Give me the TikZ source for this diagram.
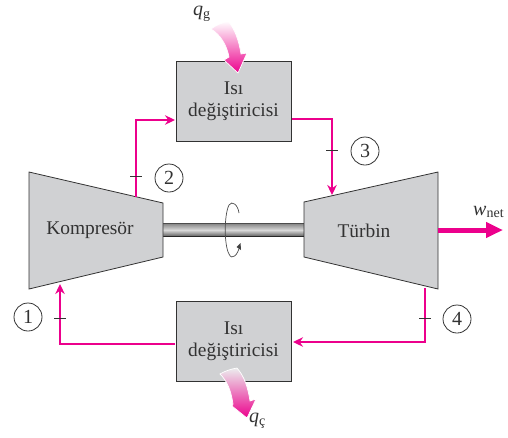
\documentclass[tikz,border=0pt]{standalone}
\usepackage{fontspec}
\setmainfont{Liberation Serif}
\usetikzlibrary{arrows.meta,calc}
\definecolor{pinkline}{RGB}{236,0,140}
\definecolor{boxgray}{RGB}{208,209,211}
\definecolor{inkdark}{RGB}{50,50,50}
\tikzset{
  hxbox/.style={draw=inkdark,line width=1pt,fill=boxgray,minimum width=115pt,minimum height=80pt,inner sep=0pt,align=center,text=inkdark,font=\fontsize{19.4}{22}\selectfont},
  machine/.style={draw=inkdark,line width=0.8pt,fill=boxgray,line join=miter},
  lbl/.style={text=inkdark,font=\fontsize{19.4}{22}\selectfont,inner sep=0pt},
  pipe/.style={draw=pinkline,line width=2.3pt},
  pipearrow/.style={pipe,-{Stealth[length=10pt,width=9.5pt]}},
  tick/.style={draw=black!80,line width=0.7pt},
  statecirc/.style={circle,draw=inkdark,line width=0.8pt,minimum size=28pt,inner sep=0pt,text=inkdark,font=\fontsize{20}{22}\selectfont},
  mathlbl/.style={inner sep=0pt,text=inkdark,font=\fontsize{20}{22}\selectfont},
  heat/.style={draw=white,line width=0.7pt,shading angle=0}
}
\begin{document}
\begin{tikzpicture}[x=1pt,y=-1pt]
\useasboundingbox (0,0) rectangle (508,437);
% shaft
\shade[top color=black!45,bottom color=black!60,middle color=black!15] (163,224) rectangle (304,236);
\draw[draw=black!70,line width=1pt] (163,223.5) -- (304,223.5);
\draw[draw=black!85,line width=1.3pt] (163,236.5) -- (304,236.5);
% machines
\draw[machine] (29,172) -- (163,203) -- (163,257) -- (29,289) -- cycle;
\draw[machine] (304,202) -- (438,172) -- (438,289) -- (304,257) -- cycle;
\node[lbl] (komp) at (90,230) {Kompresör};
\node[lbl] (turb) at (364,231) {Türbin};
% boxes
\node[hxbox] (hxtop) at (233.5,101) {Isı\\değiştiricisi};
\node[hxbox] (hxbot) at (233.5,341.5) {Isı\\değiştiricisi};
% connector ends
\coordinate (kout) at (136,197);
\coordinate (kin) at (60,284);
\coordinate (tin) at (332,195);
\coordinate (tout) at (425,288);
\coordinate (hxtin) at (175,120);
\coordinate (hxtout) at (292,119);
\coordinate (hxbin) at (293,342);
\coordinate (hxbout) at (175,344);
% pipes
\draw[pipearrow] (kout) |- (hxtin);
\draw[pipearrow] (hxtout) -| (tin);
\draw[pipearrow] (tout) |- (hxbin);
\draw[pipearrow] (hxbout) -| (kin);
% ticks
\draw[tick] (130,176) -- (142,176);
\draw[tick] (326,150.5) -- (338,150.5);
\draw[tick] (54,318) -- (66,318);
\draw[tick] (419,318) -- (431,318);
% state circles
\node[statecirc] (s1) at (28,317) {1};
\node[statecirc] (s2) at (169,178) {2};
\node[statecirc] (s3) at (365,151) {3};
\node[statecirc] (s4) at (457,319) {4};
% work arrow
\coordinate (wfrom) at (438,230);
\coordinate (wto) at (503,230);
\draw[draw=pinkline,line width=5pt,-{Stealth[length=17pt,width=15pt,inset=0pt]}] (wfrom) -- (wto);
\node[mathlbl,anchor=base west] (wlab) at (473,215) {\textit{w}\raisebox{-2.5pt}{\fontsize{14}{16}\selectfont net}};
% rotation
\draw[draw=black!70,line width=0.7pt] (239,213) .. controls (238,205) and (232,200) .. (229,205)
  .. controls (224,215) and (224,245) .. (229,254)
  .. controls (232,261) and (238,255) .. (240,245);
\fill[black!75] (240.5,243) -- (241,250) -- (236.5,247) -- cycle;
% heat arrows
\shade[heat,top color=white,bottom color=pinkline]
  (211,29) .. controls (221,35) and (227,46) .. (229,57)
  -- (224,60) -- (238,73) -- (247,53) -- (241,54)
  .. controls (239,41) and (235,29) .. (228,21) .. controls (222,23) and (216,25) .. (211,29) -- cycle;
\shade[heat,top color=boxgray!40,bottom color=pinkline]
  (220,374) .. controls (227,381) and (231,390) .. (233,404)
  -- (232,406) -- (247,418) -- (256,399) -- (250,401)
  .. controls (248,387) and (244,376) .. (237,368) .. controls (231,369) and (225,371) .. (220,374) -- cycle;
\node[mathlbl,anchor=base west] (qg) at (193,15) {\textit{q}\raisebox{-3pt}{\fontsize{14}{16}\selectfont g}};
\node[mathlbl,anchor=base west] (qc) at (249,422) {\textit{q}\raisebox{-3pt}{\fontsize{14}{16}\selectfont ç}};
\end{tikzpicture}
\end{document}
